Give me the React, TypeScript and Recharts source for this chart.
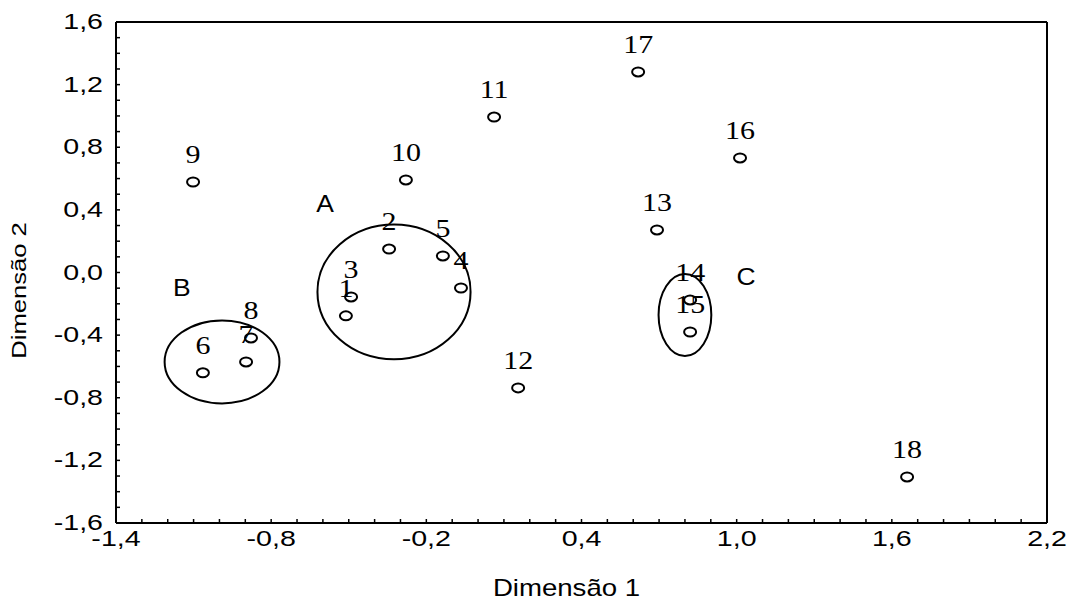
import { ScatterChart, Scatter, XAxis, YAxis } from 'recharts';

// point ids and coordinates on the two dimensions
const POINT_IDS = ['1', '2', '3', '4', '5', '6', '7', '8', '9', '10', '11', '12', '13', '14', '15', '16', '17', '18'];
const DIM1 = [-0.511, -0.344, -0.491, -0.066, -0.136, -1.064, -0.897, -0.878, -1.102, -0.279, 0.062, 0.155, 0.692, 0.82, 0.82, 1.013, 0.619, 1.659];
const DIM2 = [-0.277, 0.15, -0.156, -0.099, 0.106, -0.641, -0.571, -0.418, 0.578, 0.591, 0.993, -0.737, 0.272, -0.175, -0.38, 0.732, 1.281, -1.306];

// groups drawn as ellipses (centre and radii in data units) and their letters
const GROUP_NAMES = ['A', 'B', 'C'];
const GROUP_CX = [-0.325, -0.99, 0.8];
const GROUP_CY = [-0.124, -0.571, -0.271];
const GROUP_RX = [0.296, 0.222, 0.102];
const GROUP_RY = [0.43, 0.265, 0.262];
const GROUP_LABEL_X = [-0.592, -1.145, 1.036];
const GROUP_LABEL_Y = [0.44, -0.097, -0.03];

const X_TICKS = [-1.4, -0.8, -0.2, 0.4, 1.0, 1.6, 2.2];
const Y_TICKS = [-1.6, -1.2, -0.8, -0.4, 0.0, 0.4, 0.8, 1.2, 1.6];
const X_DOMAIN: [number, number] = [-1.4, 2.2];
const Y_DOMAIN: [number, number] = [-1.6, 1.6];

const minorTicks = (from: number, to: number) => {
  const out: number[] = [];
  const n = Math.round((to - from) * 10);
  for (let i = 0; i <= n; i++) out.push(Math.round((from + i * 0.1) * 10) / 10);
  return out;
};
const X_MINOR = minorTicks(X_DOMAIN[0], X_DOMAIN[1]);
const Y_MINOR = minorTicks(Y_DOMAIN[0], Y_DOMAIN[1]);

const CHART_W = 1069;
const CHART_H = 600;
// top/right axes are 1px thick, so the plot box runs 116..1047 x 22..523
const MARGIN = { top: 21, right: 21, left: 0, bottom: 0 };
const Y_AXIS_W = 116;
const X_AXIS_H = 77;
const PLOT_W = CHART_W - Y_AXIS_W - MARGIN.right - 1;
const PLOT_H = CHART_H - MARGIN.top - 1 - X_AXIS_H;
const PX_PER_X = PLOT_W / (X_DOMAIN[1] - X_DOMAIN[0]);
const PX_PER_Y = PLOT_H / (Y_DOMAIN[1] - Y_DOMAIN[0]);

const SANS = "'Liberation Sans', Arial, sans-serif";
const SERIF = "'Liberation Serif', 'Times New Roman', serif";

const points = POINT_IDS.map((id, i) => ({ id, x: DIM1[i], y: DIM2[i] }));
const groups = GROUP_NAMES.map((name, i) => ({ name, x: GROUP_CX[i], y: GROUP_CY[i], rx: GROUP_RX[i], ry: GROUP_RY[i] }));
const groupLabels = GROUP_NAMES.map((name, i) => ({ name, x: GROUP_LABEL_X[i], y: GROUP_LABEL_Y[i] }));

const isMajor = (v: number, list: number[]) => list.some((t) => Math.abs(t - v) < 1e-6);
const fmt = (v: number) => (Math.abs(v) < 1e-9 ? 0 : v).toFixed(1).replace('.', ',');

const XTick = ({ x, y, payload }: any) => {
  if (!isMajor(payload.value, X_TICKS)) return <g />;
  return (
    <text transform={`translate(${x},${y}) scale(1.3,1)`} y={27} textAnchor="middle" fontFamily={SANS} fontSize={22} fill="#000">
      {fmt(payload.value)}
    </text>
  );
};

const YTick = ({ x, y, payload }: any) => {
  if (!isMajor(payload.value, Y_TICKS)) return <g />;
  return (
    <text transform={`translate(${x},${y}) scale(1.3,1)`} y={7} textAnchor="end" fontFamily={SANS} fontSize={22} fill="#000">
      {fmt(payload.value)}
    </text>
  );
};

const PointShape = (props: any) => {
  const { cx, cy, payload } = props;
  return (
    <g>
      <ellipse cx={cx} cy={cy} rx={6} ry={4.5} fill="none" stroke="#000" strokeWidth={2} />
      <text transform={`translate(${cx},${cy - 19}) scale(1.2,1)`} textAnchor="middle" fontFamily={SERIF} fontSize={25} fill="#000">
        {payload.id}
      </text>
    </g>
  );
};

const GroupShape = (props: any) => {
  const { cx, cy, payload } = props;
  return <ellipse cx={cx} cy={cy} rx={payload.rx * PX_PER_X} ry={payload.ry * PX_PER_Y} fill="none" stroke="#000" strokeWidth={2} />;
};

const LetterShape = (props: any) => {
  const { cx, cy, payload } = props;
  return (
    <text transform={`translate(${cx},${cy + 8}) scale(1.15,1)`} textAnchor="middle" fontFamily={SANS} fontSize={23} fill="#000">
      {payload.name}
    </text>
  );
};

const XTitle = (props: any) => {
  const vb = props.viewBox;
  return (
    <text transform={`translate(${vb.x + vb.width / 2 - 15},${vb.y + 73}) scale(1.2,1)`} textAnchor="middle" fontFamily={SANS} fontSize={23} fill="#000">
      Dimensão 1
    </text>
  );
};

const YTitle = (props: any) => {
  const vb = props.viewBox;
  return (
    <text transform={`translate(26,${vb.y + vb.height / 2 + 18}) rotate(-90) scale(1.28,1)`} textAnchor="middle" fontFamily={SANS} fontSize={20} fill="#000">
      Dimensão 2
    </text>
  );
};

const axisLine = { stroke: '#000', strokeWidth: 2 };
const tickLine = { stroke: '#000', strokeWidth: 1.5 };

export default function App() {
  return (
    <div style={{ position: 'absolute', left: 0, top: 0, width: CHART_W, height: CHART_H, background: '#fff' }}>
      <ScatterChart width={CHART_W} height={CHART_H} margin={MARGIN}>
        <XAxis
          xAxisId="bottom"
          type="number"
          dataKey="x"
          domain={X_DOMAIN}
          ticks={X_MINOR}
          interval={0}
          height={X_AXIS_H}
          tickSize={-4}
          tickMargin={0}
          axisLine={axisLine}
          tickLine={tickLine}
          tick={XTick}
          label={XTitle}
        />
        <XAxis
          xAxisId="top"
          orientation="top"
          type="number"
          domain={X_DOMAIN}
          ticks={X_MINOR}
          interval={0}
          height={1}
          tickSize={-4}
          axisLine={axisLine}
          tickLine={tickLine}
          tick={false}
        />
        <YAxis
          yAxisId="left"
          type="number"
          dataKey="y"
          domain={Y_DOMAIN}
          ticks={Y_MINOR}
          interval={0}
          width={Y_AXIS_W}
          tickSize={-4}
          tickMargin={17}
          axisLine={axisLine}
          tickLine={tickLine}
          tick={YTick}
          label={YTitle}
        />
        <YAxis
          yAxisId="right"
          orientation="right"
          type="number"
          domain={Y_DOMAIN}
          ticks={Y_MINOR}
          interval={0}
          width={1}
          tickSize={-4}
          axisLine={axisLine}
          tickLine={tickLine}
          tick={false}
        />
        <Scatter data={groups} xAxisId="bottom" yAxisId="left" shape={GroupShape} isAnimationActive={false} />
        <Scatter data={groupLabels} xAxisId="bottom" yAxisId="left" shape={LetterShape} isAnimationActive={false} />
        <Scatter data={points} xAxisId="bottom" yAxisId="left" shape={PointShape} isAnimationActive={false} />
      </ScatterChart>
    </div>
  );
}
